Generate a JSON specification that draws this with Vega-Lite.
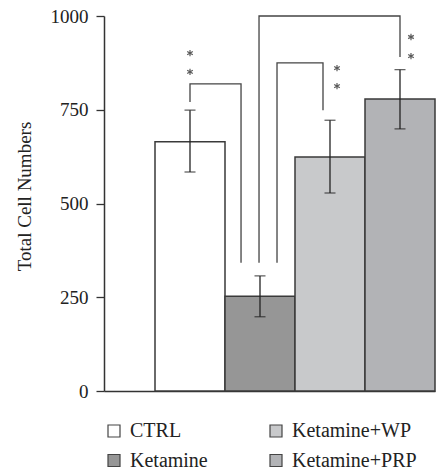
{
  "$schema": "https://vega.github.io/schema/vega-lite/v6.json",
  "width": 331,
  "height": 375,
  "autosize": {"type": "none"},
  "padding": {"left": 104, "top": 16, "right": 1, "bottom": 81},
  "background": "white",
  "config": {"view": {"stroke": null}, "font": "Liberation Serif"},
  "datasets": {
    "bars": [
      {"group": "CTRL", "mean": 665, "lo": 584, "hi": 749},
      {"group": "Ketamine", "mean": 253, "lo": 198, "hi": 307},
      {"group": "Ketamine+WP", "mean": 624, "lo": 528, "hi": 722},
      {"group": "Ketamine+PRP", "mean": 779, "lo": 699, "hi": 857}
    ],
    "brackets": [
      {"b": "B1", "i": 0, "x": 0.5, "y": 771},
      {"b": "B1", "i": 1, "x": 0.5, "y": 819},
      {"b": "B1", "i": 2, "x": 1.229, "y": 819},
      {"b": "B1", "i": 3, "x": 1.229, "y": 342},
      {"b": "B2", "i": 0, "x": 1.743, "y": 342},
      {"b": "B2", "i": 1, "x": 1.743, "y": 875},
      {"b": "B2", "i": 2, "x": 2.4, "y": 875},
      {"b": "B2", "i": 3, "x": 2.4, "y": 749},
      {"b": "B3", "i": 0, "x": 1.486, "y": 342},
      {"b": "B3", "i": 1, "x": 1.486, "y": 1000},
      {"b": "B3", "i": 2, "x": 3.5, "y": 1000},
      {"b": "B3", "i": 3, "x": 3.5, "y": 891}
    ],
    "stars": [
      {"x": 0.5, "y": 901},
      {"x": 0.5, "y": 851},
      {"x": 2.6, "y": 861},
      {"x": 2.6, "y": 813},
      {"x": 3.657, "y": 944},
      {"x": 3.657, "y": 893}
    ]
  },
  "layer": [
    {
      "data": {"name": "bars"},
      "encoding": {
        "x": {
          "field": "group",
          "type": "nominal",
          "sort": ["CTRL", "Ketamine", "Ketamine+WP", "Ketamine+PRP"],
          "scale": {"paddingInner": 0, "paddingOuter": 0.3643, "align": 1},
          "axis": {"title": null, "labels": false, "ticks": false, "domain": true, "domainColor": "#333333", "domainWidth": 1.5, "grid": false}
        }
      },
      "layer": [
        {
          "mark": {"type": "bar", "stroke": "#3a3a3a", "strokeWidth": 1.5, "opacity": 1},
          "encoding": {
            "y": {
              "field": "mean",
              "type": "quantitative",
              "scale": {"domain": [0, 1000], "nice": false},
              "axis": {
                "title": "Total Cell Numbers",
                "values": [0, 250, 500, 750, 1000],
                "format": "d",
                "grid": false,
                "domainColor": "#333333",
                "domainWidth": 1.5,
                "tickColor": "#333333",
                "tickWidth": 1.3,
                "tickSize": 8,
                "labelPadding": 8,
                "labelFont": "Liberation Serif",
                "labelFontSize": 19,
                "labelColor": "#222222",
                "titleFont": "Liberation Serif",
                "titleFontSize": 19,
                "titleFontWeight": "normal",
                "titleColor": "#222222",
                "titleAngle": 270,
                "titleAlign": "center",
                "titleBaseline": "middle",
                "titleX": -80,
                "titleY": 180
              }
            },
            "color": {
              "field": "group",
              "type": "nominal",
              "scale": {
                "domain": ["CTRL", "Ketamine", "Ketamine+WP", "Ketamine+PRP"],
                "range": ["#ffffff", "#969696", "#c8c9cb", "#b2b3b6"]
              },
              "legend": {
                "orient": "none",
                "legendX": 0,
                "legendY": 405,
                "columns": 2,
                "title": null,
                "symbolType": "square",
                "symbolSize": 144,
                "symbolStrokeColor": "#444444",
                "symbolStrokeWidth": 1.2,
                "symbolOpacity": 1,
                "labelFont": "Liberation Serif",
                "labelFontSize": 20,
                "labelColor": "#222222",
                "labelOffset": 6,
                "rowPadding": 9.5,
                "columnPadding": 58
              }
            }
          }
        },
        {
          "mark": {"type": "rule", "color": "#222222", "strokeWidth": 1.3},
          "encoding": {
            "y": {"field": "lo", "type": "quantitative"},
            "y2": {"field": "hi"}
          }
        },
        {
          "mark": {"type": "tick", "color": "#222222", "size": 11, "thickness": 1.3},
          "encoding": {"y": {"field": "lo", "type": "quantitative"}}
        },
        {
          "mark": {"type": "tick", "color": "#222222", "size": 11, "thickness": 1.3},
          "encoding": {"y": {"field": "hi", "type": "quantitative"}}
        }
      ]
    },
    {
      "data": {"name": "brackets"},
      "mark": {"type": "line", "color": "#444444", "strokeWidth": 1.3, "clip": false},
      "encoding": {
        "x": {"field": "x", "type": "quantitative", "scale": {"domain": [-0.72857, 4], "nice": false, "zero": false}, "axis": null},
        "y": {"field": "y", "type": "quantitative"},
        "detail": {"field": "b"},
        "order": {"field": "i"}
      }
    },
    {
      "data": {"name": "stars"},
      "mark": {"type": "point", "shape": "M0,-1L0,1M-0.87,-0.5L0.87,0.5M-0.87,0.5L0.87,-0.5", "filled": false, "stroke": "#5a5a5a", "strokeWidth": 1.2, "size": 42, "opacity": 1},
      "encoding": {
        "x": {"field": "x", "type": "quantitative", "scale": {"domain": [-0.72857, 4], "nice": false, "zero": false}, "axis": null},
        "y": {"field": "y", "type": "quantitative"}
      }
    }
  ],
  "resolve": {"scale": {"x": "independent"}, "axis": {"x": "independent"}}
}
